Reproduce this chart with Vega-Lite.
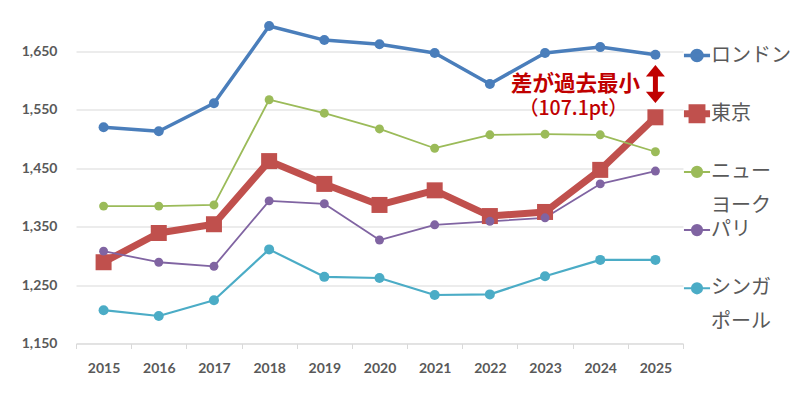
{
  "$schema": "https://vega.github.io/schema/vega-lite/v6.json",
  "width": 607,
  "height": 342,
  "autosize": {"type": "none"},
  "padding": {"left": 76, "top": 1.5, "right": 117, "bottom": 49.5},
  "background": "white",
  "config": {"view": {"stroke": null}},
  "datasets": {
    "series": [
      {"year": "2015", "city": "ロンドン", "value": 1520},
      {"year": "2016", "city": "ロンドン", "value": 1513},
      {"year": "2017", "city": "ロンドン", "value": 1561},
      {"year": "2018", "city": "ロンドン", "value": 1693},
      {"year": "2019", "city": "ロンドン", "value": 1669},
      {"year": "2020", "city": "ロンドン", "value": 1662},
      {"year": "2021", "city": "ロンドン", "value": 1647},
      {"year": "2022", "city": "ロンドン", "value": 1594},
      {"year": "2023", "city": "ロンドン", "value": 1647},
      {"year": "2024", "city": "ロンドン", "value": 1657},
      {"year": "2025", "city": "ロンドン", "value": 1644},
      {"year": "2015", "city": "東京", "value": 1289},
      {"year": "2016", "city": "東京", "value": 1339},
      {"year": "2017", "city": "東京", "value": 1354},
      {"year": "2018", "city": "東京", "value": 1462},
      {"year": "2019", "city": "東京", "value": 1423},
      {"year": "2020", "city": "東京", "value": 1387},
      {"year": "2021", "city": "東京", "value": 1412},
      {"year": "2022", "city": "東京", "value": 1368},
      {"year": "2023", "city": "東京", "value": 1375},
      {"year": "2024", "city": "東京", "value": 1447},
      {"year": "2025", "city": "東京", "value": 1536.9},
      {"year": "2015", "city": "ニューヨーク", "value": 1385},
      {"year": "2016", "city": "ニューヨーク", "value": 1385},
      {"year": "2017", "city": "ニューヨーク", "value": 1387},
      {"year": "2018", "city": "ニューヨーク", "value": 1567},
      {"year": "2019", "city": "ニューヨーク", "value": 1544},
      {"year": "2020", "city": "ニューヨーク", "value": 1517},
      {"year": "2021", "city": "ニューヨーク", "value": 1484},
      {"year": "2022", "city": "ニューヨーク", "value": 1507},
      {"year": "2023", "city": "ニューヨーク", "value": 1508},
      {"year": "2024", "city": "ニューヨーク", "value": 1507},
      {"year": "2025", "city": "ニューヨーク", "value": 1478},
      {"year": "2015", "city": "パリ", "value": 1308},
      {"year": "2016", "city": "パリ", "value": 1289},
      {"year": "2017", "city": "パリ", "value": 1282},
      {"year": "2018", "city": "パリ", "value": 1394},
      {"year": "2019", "city": "パリ", "value": 1389},
      {"year": "2020", "city": "パリ", "value": 1327},
      {"year": "2021", "city": "パリ", "value": 1353},
      {"year": "2022", "city": "パリ", "value": 1359},
      {"year": "2023", "city": "パリ", "value": 1365},
      {"year": "2024", "city": "パリ", "value": 1423},
      {"year": "2025", "city": "パリ", "value": 1445},
      {"year": "2015", "city": "シンガポール", "value": 1207},
      {"year": "2016", "city": "シンガポール", "value": 1197},
      {"year": "2017", "city": "シンガポール", "value": 1224},
      {"year": "2018", "city": "シンガポール", "value": 1311},
      {"year": "2019", "city": "シンガポール", "value": 1264},
      {"year": "2020", "city": "シンガポール", "value": 1262},
      {"year": "2021", "city": "シンガポール", "value": 1233},
      {"year": "2022", "city": "シンガポール", "value": 1234},
      {"year": "2023", "city": "シンガポール", "value": 1265},
      {"year": "2024", "city": "シンガポール", "value": 1293},
      {"year": "2025", "city": "シンガポール", "value": 1293}
    ],
    "notes": [
      {"year": "2025", "value": 1591.5, "text": "差が過去最小", "kind": "head"},
      {"year": "2025", "value": 1550.5, "text": "（107.1pt）", "kind": "sub"}
    ],
    "arrow": [
      {"year": "2025", "top": 1616.5, "bottom": 1571}
    ]
  },
  "encoding": {
    "x": {
      "field": "year",
      "type": "ordinal",
      "scale": {"type": "band", "paddingInner": 0, "paddingOuter": 0},
      "axis": {
        "title": null,
        "labelAngle": 0,
        "tickBand": "extent",
        "domainColor": "#D9D9D9",
        "tickColor": "#D9D9D9",
        "tickSize": 5,
        "labelPadding": 13,
        "labelFont": "Lato",
        "labelFontWeight": "bold",
        "labelFontSize": 14,
        "labelColor": "#595959",
        "grid": false
      }
    }
  },
  "layer": [
    {
      "data": {"name": "series"},
      "mark": {"type": "line", "strokeJoin": "round"},
      "encoding": {
        "y": {
          "field": "value",
          "type": "quantitative",
          "scale": {"domain": [1150, 1735], "nice": false, "zero": false},
          "axis": {
            "title": null,
            "values": [1150, 1250, 1350, 1450, 1550, 1650],
            "format": ",.0f",
            "domain": false,
            "ticks": false,
            "tickSize": 0,
            "labelPadding": 19,
            "gridColor": "#D9D9D9",
            "labelFont": "Lato",
            "labelFontWeight": "bold",
            "labelFontSize": 14,
            "labelColor": "#595959"
          }
        },
        "color": {
          "field": "city",
          "type": "nominal",
          "sort": null,
          "scale": {
            "domain": ["ロンドン", "東京", "ニューヨーク", "パリ", "シンガポール"],
            "range": ["#4A7EBB", "#C0504D", "#9BBB59", "#8064A2", "#4BACC6"]
          },
          "legend": {
            "orient": "none",
            "legendX": 611,
            "legendY": 44,
            "title": null,
            "gridAlign": "all",
            "rowPadding": -5.8,
            "labelFont": "Noto Sans CJK JP",
            "labelFontSize": 20,
            "labelColor": "#595959",
            "labelOffset": 4,
            "labelLimit": 0,
            "symbolSize": 676,
            "labelExpr": "datum.label === 'ニューヨーク' ? ['ニュー','ヨーク'] : datum.label === 'シンガポール' ? ['シンガ','ポール'] : datum.label",
            "encode": {
              "symbols": {
                "update": {
                  "shape": {"signal": "datum.value === '東京' ? 'M-0.87,0L0.87,0M-0.33,-0.4L0.33,-0.4L0.33,0.4L-0.33,0.4Z' : 'M-0.87,0L0.87,0M-0.34,0A0.34,0.34,0,1,1,0.34,0A0.34,0.34,0,1,1,-0.34,0Z'"},
                  "strokeWidth": {"signal": "datum.value === '東京' ? 7 : datum.value === 'ロンドン' ? 3.5 : 2"},
                  "fill": {"scale": "color", "field": "value"},
                  "stroke": {"scale": "color", "field": "value"},
                  "opacity": {"value": 1},
                  "size": {"value": 900}
                }
              },
              "labels": {
                "update": {
                  "baseline": {"value": "top"},
                  "dy": {"value": -10},
                  "lineHeight": {"value": 34}
                }
              }
            }
          }
        },
        "strokeWidth": {
          "condition": [
            {"test": "datum.city === '東京'", "value": 7},
            {"test": "datum.city === 'ロンドン'", "value": 3.5},
            {"test": "datum.city === 'シンガポール'", "value": 2.2}
          ],
          "value": 1.8
        }
      }
    },
    {
      "data": {"name": "series"},
      "mark": {"type": "point", "filled": true, "opacity": 1},
      "encoding": {
        "y": {"field": "value", "type": "quantitative"},
        "color": {"field": "city", "type": "nominal", "sort": null},
        "shape": {
          "condition": {"test": "datum.city === '東京'", "value": "square"},
          "value": "circle"
        },
        "size": {
          "condition": [
            {"test": "datum.city === '東京'", "value": 256},
            {"test": "datum.city === 'ロンドン'", "value": 100},
            {"test": "datum.city === 'シンガポール'", "value": 100}
          ],
          "value": 80
        }
      }
    },
    {
      "data": {"name": "arrow"},
      "mark": {"type": "rule", "color": "#C00000", "strokeWidth": 5},
      "encoding": {
        "y": {"field": "top", "type": "quantitative"},
        "y2": {"field": "bottom"}
      }
    },
    {
      "data": {"name": "arrow"},
      "mark": {"type": "point", "filled": true, "color": "#C00000", "opacity": 1, "size": 361, "shape": "M0,-0.6L1,0.6L-1,0.6Z"},
      "encoding": {
        "y": {"field": "top", "type": "quantitative"}
      }
    },
    {
      "data": {"name": "arrow"},
      "mark": {"type": "point", "filled": true, "color": "#C00000", "opacity": 1, "size": 361, "shape": "M0,0.6L1,-0.6L-1,-0.6Z"},
      "encoding": {
        "y": {"field": "bottom", "type": "quantitative"}
      }
    },
    {
      "data": {"name": "notes"},
      "transform": [{"filter": "datum.kind === 'head'"}],
      "mark": {"type": "text", "font": "Noto Sans CJK JP", "fontWeight": "bold", "fontSize": 21.5, "color": "#C00000", "dx": -80, "align": "center", "baseline": "middle"},
      "encoding": {
        "y": {"field": "value", "type": "quantitative"},
        "text": {"field": "text"}
      }
    },
    {
      "data": {"name": "notes"},
      "transform": [{"filter": "datum.kind === 'sub'"}],
      "mark": {"type": "text", "font": "Noto Sans CJK JP", "fontWeight": 500, "fontSize": 19.5, "color": "#C00000", "dx": -82, "align": "center", "baseline": "middle"},
      "encoding": {
        "y": {"field": "value", "type": "quantitative"},
        "text": {"field": "text"}
      }
    }
  ]
}
